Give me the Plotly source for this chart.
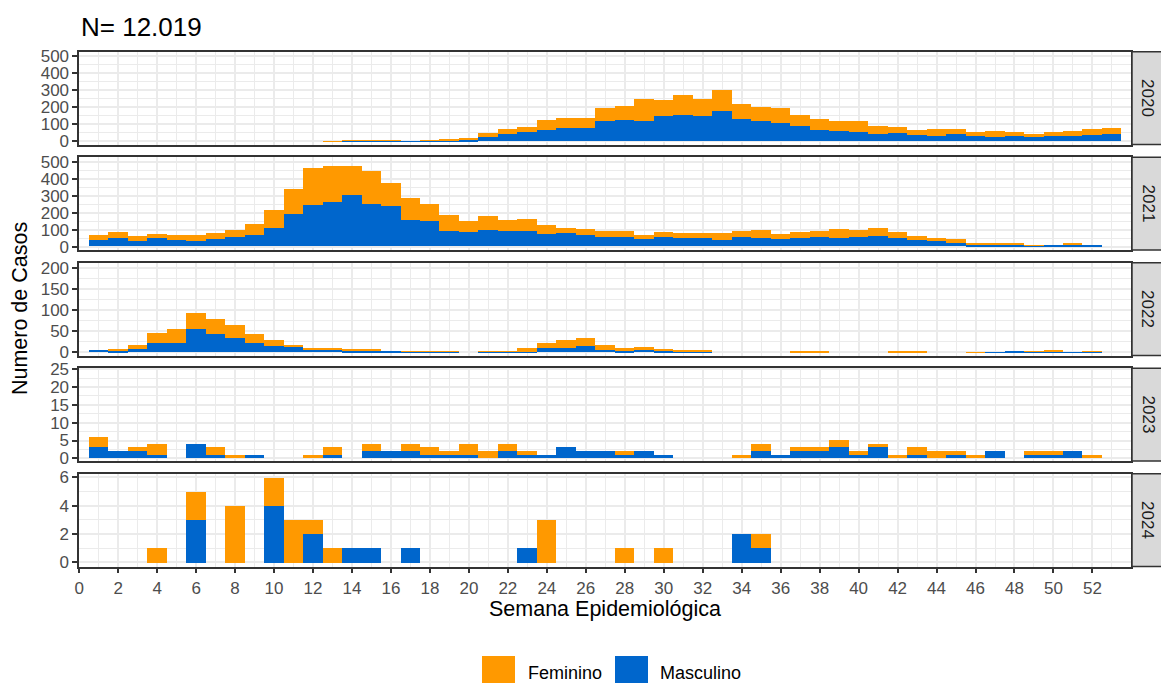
import plotly.graph_objects as go

# ---------------- data ----------------
anos = ["2020", "2021", "2022", "2023", "2024"]

semanas_2020 = list(range(1, 54))
masc_2020 = [0] * 12 + [0, 7, 3, 3, 2, 3, 5, 10, 28, 45,
                        57, 69, 81, 81, 121, 128, 123, 152, 158, 152,
                        176, 134, 123, 111, 93, 69, 63, 57, 45, 51,
                        40, 34, 45, 34, 28, 34, 28, 34, 34, 40,
                        45]
fem_2020 = [0] * 12 + [2, 1, 5, 5, 0, 5, 10, 10, 23, 30,
                       30, 59, 59, 59, 73, 83, 124, 89, 113, 95,
                       124, 89, 77, 83, 65, 65, 60, 66, 48, 36,
                       29, 41, 30, 23, 35, 23, 17, 23, 29, 35,
                       36]

semanas = list(range(1, 53))
masc_2021 = [40, 51, 34, 51, 40, 34, 45, 57, 69, 111,
             188, 241, 259, 300, 247, 235, 158, 152, 93, 87,
             99, 93, 93, 75, 81, 69, 57, 57, 45, 57,
             51, 51, 40, 57, 51, 45, 51, 57, 51, 57,
             63, 51, 40, 34, 22, 10, 10, 10, 4, 4,
             10, 4]
fem_2021 = [29, 36, 29, 24, 29, 35, 36, 42, 65, 106,
            148, 219, 213, 172, 196, 137, 125, 95, 89, 65,
            77, 65, 71, 53, 30, 36, 36, 36, 24, 30,
            30, 30, 41, 36, 48, 30, 36, 36, 54, 42,
            48, 36, 23, 17, 23, 12, 12, 6, 4, 0,
            6, 0]

masc_2022 = [6, 4, 9, 23, 23, 56, 44, 35, 23, 16,
             13, 6, 6, 4, 4, 4, 1, 1, 1, 0,
             1, 1, 2, 11, 11, 16, 6, 4, 6, 4,
             2, 2, 0, 0, 0, 0, 0, 0, 0, 0,
             0, 0, 0, 0, 0, 0, 1, 2, 1, 2,
             1, 1]
fem_2022 = [0, 5, 9, 24, 33, 38, 36, 31, 21, 14,
            5, 3, 5, 5, 2, 0, 1, 1, 1, 0,
            1, 1, 9, 12, 19, 19, 12, 7, 7, 2,
            2, 2, 0, 0, 0, 0, 2, 2, 0, 0,
            0, 2, 2, 0, 0, 1, 0, 0, 2, 2,
            0, 2]

masc_2023 = [3, 2, 2, 1, 0, 4, 1, 0, 1, 0,
             0, 0, 1, 0, 2, 2, 2, 1, 1, 1,
             0, 2, 1, 1, 3, 2, 2, 1, 2, 1,
             0, 0, 0, 0, 2, 1, 2, 2, 3, 1,
             3, 0, 1, 0, 1, 0, 2, 0, 1, 1,
             2, 0]
fem_2023 = [3, 0, 1, 3, 0, 0, 2, 1, 0, 0,
            0, 1, 2, 0, 2, 0, 2, 2, 1, 3,
            2, 2, 1, 0, 0, 0, 0, 1, 0, 0,
            0, 0, 0, 1, 2, 0, 1, 1, 2, 1,
            1, 1, 2, 2, 1, 1, 0, 0, 1, 1,
            0, 1]

masc_2024 = [0, 0, 0, 0, 0, 3, 0, 0, 0, 4,
             0, 2, 0, 1, 1, 0, 1, 0, 0, 0,
             0, 0, 1, 0, 0, 0, 0, 0, 0, 0,
             0, 0, 0, 2, 1, 0, 0, 0, 0, 0,
             0, 0, 0, 0, 0, 0, 0, 0, 0, 0,
             0, 0]
fem_2024 = [0, 0, 0, 1, 0, 2, 0, 4, 0, 2,
            3, 1, 1, 0, 0, 0, 0, 0, 0, 0,
            0, 0, 0, 3, 0, 0, 0, 1, 0, 1,
            0, 0, 0, 0, 1, 0, 0, 0, 0, 0,
            0, 0, 0, 0, 0, 0, 0, 0, 0, 0,
            0, 0]

x_ticks = list(range(0, 53, 2))
y_ticks = {
    "2020": [0, 100, 200, 300, 400, 500],
    "2021": [0, 100, 200, 300, 400, 500],
    "2022": [0, 50, 100, 150, 200],
    "2023": [0, 5, 10, 15, 20, 25],
    "2024": [0, 2, 4, 6],
}
titulo = "N= 12.019"

# ---------------- styling / layout ----------------
W, H = 1161, 683
COL_F = "#FF9900"
COL_M = "#0066CC"
FONT = "Liberation Sans, Arial, sans-serif"
GRID = "#EBEBEB"
BORDER = "#333333"
TICK_FS = 17

series = {
    "2020": (semanas_2020, masc_2020, fem_2020),
    "2021": (semanas, masc_2021, fem_2021),
    "2022": (semanas, masc_2022, fem_2022),
    "2023": (semanas, masc_2023, fem_2023),
    "2024": (semanas, masc_2024, fem_2024),
}
y_ranges = {
    "2020": [-20, 526], "2021": [-20, 526], "2022": [-8, 212],
    "2023": [-0.75, 25.3], "2024": [-0.3, 6.25],
}

x0_px, x1_px = 79.2, 1131.4
tops = [51.7, 157.2, 262.7, 368.2, 473.7]
ph = 92.8

fig = go.Figure()
layout = dict(
    width=W, height=H, margin=dict(l=0, r=0, t=0, b=0, autoexpand=False),
    paper_bgcolor="white", plot_bgcolor="white",
    barmode="stack", bargap=0, showlegend=False,
    font=dict(family=FONT, size=16, color="#4D4D4D"),
)
shapes = []
annotations = []

for i, ano in enumerate(anos):
    sfx = "" if i == 0 else str(i + 1)
    xa, ya = "x" + sfx, "y" + sfx
    wk, m, f = series[ano]
    fig.add_trace(go.Bar(x=wk, y=m, width=1, marker=dict(color=COL_M, line=dict(width=0)),
                         name="Masculino", xaxis=xa, yaxis=ya))
    fig.add_trace(go.Bar(x=wk, y=f, width=1, marker=dict(color=COL_F, line=dict(width=0)),
                         name="Feminino", xaxis=xa, yaxis=ya))
    top, bot = tops[i], tops[i] + ph
    last = i == len(anos) - 1
    minor_x = [v for v in range(1, 54, 2)]
    layout["xaxis" + sfx] = dict(
        domain=[x0_px / W, x1_px / W], anchor=ya, range=[0, 54], automargin=False,
        tickmode="array", tickvals=x_ticks, showticklabels=last,
        ticks="outside" if last else "", ticklen=5, tickwidth=1.5, tickcolor=BORDER,
        tickfont=dict(size=TICK_FS, color="#4D4D4D"),
        showgrid=True, gridcolor=GRID, gridwidth=1.6,
        minor=dict(tickmode="array", tickvals=minor_x, showgrid=True, gridcolor=GRID, gridwidth=0.8),
        showline=True, mirror=True, linecolor=BORDER, linewidth=1.5, zeroline=False,
        fixedrange=True,
        **({} if i == 0 else {"matches": "x"}),
    )
    yt = y_ticks[ano]
    step = yt[1] - yt[0]
    minor_y = [v + step / 2 for v in yt]
    layout["yaxis" + sfx] = dict(
        domain=[1 - bot / H, 1 - top / H], anchor=xa, range=y_ranges[ano], automargin=False,
        tickmode="array", tickvals=yt, ticks="outside", ticklen=5, tickwidth=1.5,
        tickcolor=BORDER, tickfont=dict(size=TICK_FS, color="#4D4D4D"),
        showgrid=True, gridcolor=GRID, gridwidth=1.6,
        minor=dict(tickmode="array", tickvals=minor_y, showgrid=True, gridcolor=GRID, gridwidth=0.8),
        showline=True, mirror=True, linecolor=BORDER, linewidth=1.5, zeroline=False,
        fixedrange=True,
    )
    # facet strip
    shapes.append(dict(type="rect", xref="paper", yref="paper",
                       x0=1132 / W, x1=1168 / W, y0=1 - bot / H, y1=1 - top / H,
                       fillcolor="#D9D9D9", line=dict(color=BORDER, width=1.5), layer="above"))
    annotations.append(dict(text=ano, xref="paper", yref="paper", x=1148 / W, y=1 - (top + ph / 2) / H,
                            showarrow=False, textangle=90, font=dict(size=17, color="#1A1A1A"),
                            xanchor="center", yanchor="middle"))

# title & axis titles
annotations.append(dict(text=titulo, xref="paper", yref="paper", x=79 / W, y=1 - 27 / H,
                        showarrow=False, xanchor="left", yanchor="middle",
                        font=dict(size=26, color="black")))
annotations.append(dict(text="Numero de Casos", xref="paper", yref="paper", x=20 / W,
                        y=1 - (tops[0] + tops[-1] + ph) / 2 / H, showarrow=False, textangle=-90,
                        xanchor="center", yanchor="middle", font=dict(size=21.5, color="black")))
annotations.append(dict(text="Semana Epidemiológica", xref="paper", yref="paper",
                        x=(x0_px + x1_px) / 2 / W, y=1 - 609 / H, showarrow=False,
                        xanchor="center", yanchor="middle", font=dict(size=21.5, color="black")))

# legend (drawn manually, big square keys like ggplot)
leg = [("Feminino", COL_F, 482, 526), ("Masculino", COL_M, 615, 658)]
for lab, col, kx, tx in leg:
    shapes.append(dict(type="rect", xref="paper", yref="paper",
                       x0=kx / W, x1=(kx + 33) / W, y0=1 - 687 / H, y1=1 - 656 / H,
                       fillcolor=col, line=dict(width=0)))
    annotations.append(dict(text=lab, xref="paper", yref="paper", x=tx / W, y=1 - 673 / H,
                            showarrow=False, xanchor="left", yanchor="middle",
                            font=dict(size=18, color="black")))

layout["shapes"] = shapes
layout["annotations"] = annotations
fig.update_layout(**layout)
fig.write_html("out.html", config={"displayModeBar": False},
               post_script="document.body.style.margin='0';document.body.style.overflow='hidden';")
